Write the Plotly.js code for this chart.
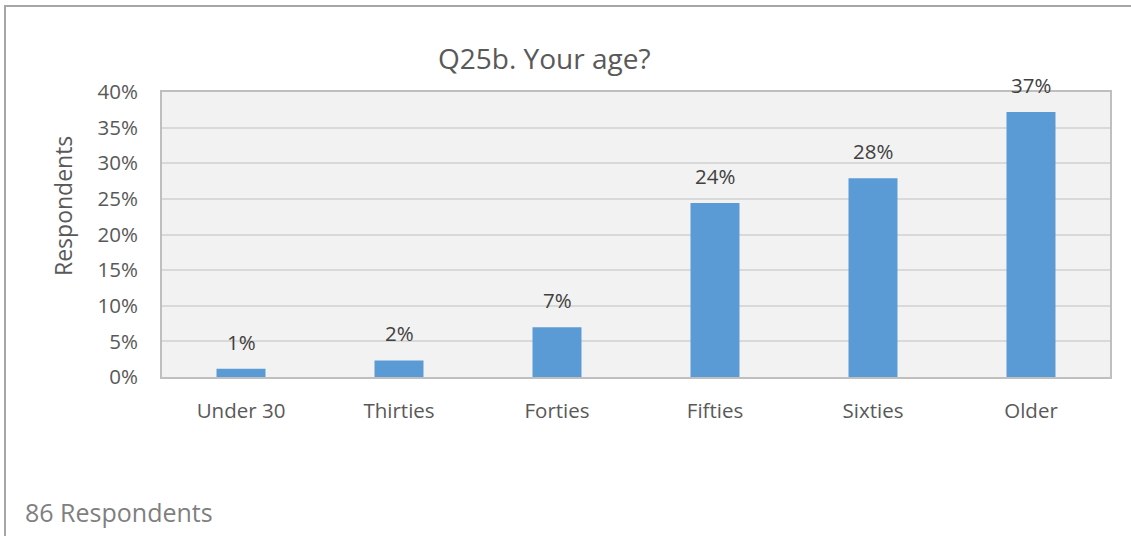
<!DOCTYPE html>
<html>
<head>
<meta charset="utf-8">
<script src="https://cdn.plot.ly/plotly-3.0.1.min.js"></script>
<style>html,body{margin:0;padding:0;background:#fff;}#chart{width:1131px;height:536px;}</style>
</head>
<body>
<div id="chart"></div>
<script>
var categories = ["Under 30", "Thirties", "Forties", "Fifties", "Sixties", "Older"];
var counts = [1, 2, 6, 21, 24, 32];
var totalRespondents = 86;
var shares = counts.map(function (c) { return c / totalRespondents; });
var labels = ["1%", "2%", "7%", "24%", "28%", "37%"];
var yTickVals = [0, 0.05, 0.10, 0.15, 0.20, 0.25, 0.30, 0.35, 0.40];
var yTickText = ["0%", "5%", "10%", "15%", "20%", "25%", "30%", "35%", "40%"];

var W = 1131, H = 536;
var L = 162, R = 21, T = 92, B = 159;
var pw = W - L - R, ph = H - T - B;
function px(x) { return (x - L) / pw; }
function py(y) { return (H - B - y) / ph; }

var font = "Open Sans, Noto Sans, sans-serif";

var annotations = categories.map(function (c, i) {
  return {
    x: c, y: shares[i], xref: "x", yref: "y", text: labels[i],
    showarrow: false, yanchor: "bottom", yshift: 11,
    font: {family: font, size: 20.5, color: "#404040"}
  };
});
annotations.push({
  x: px(63), y: py(206), xref: "paper", yref: "paper", text: "Respondents",
  showarrow: false, textangle: -90, xanchor: "center", yanchor: "middle",
  font: {family: font, size: 23, color: "#595959"}
});
annotations.push({
  x: px(544), y: py(58), xref: "paper", yref: "paper", text: "Q25b. Your age?",
  showarrow: false, xanchor: "center", yanchor: "middle",
  font: {family: font, size: 28, color: "#595959"}
});
annotations.push({
  x: px(23), y: py(512), xref: "paper", yref: "paper", text: "86 Respondents",
  showarrow: false, xanchor: "left", yanchor: "middle",
  font: {family: font, size: 25, color: "#7f7f7f"}
});

var trace = {
  type: "bar", x: categories, y: shares,
  marker: {color: "#5b9bd5"}, hoverinfo: "none"
};

var layout = {
  width: W, height: H,
  margin: {l: L, r: R, t: T, b: B, pad: 0},
  paper_bgcolor: "#ffffff", plot_bgcolor: "#f2f2f2",
  bargap: 0.69, showlegend: false,
  xaxis: {
    type: "category", showgrid: false, zeroline: false,
    showline: true, linecolor: "#bfbfbf", linewidth: 2, mirror: true,
    ticks: "outside", ticklen: 14, tickcolor: "rgba(0,0,0,0)",
    tickfont: {family: font, size: 20.5, color: "#595959"}, fixedrange: true
  },
  yaxis: {
    range: [0, 0.40], tickvals: yTickVals, ticktext: yTickText,
    showgrid: true, gridcolor: "#d9d9d9", gridwidth: 2, zeroline: false,
    showline: true, linecolor: "#bfbfbf", linewidth: 2, mirror: true,
    ticks: "outside", ticklen: 18, tickcolor: "rgba(0,0,0,0)",
    tickfont: {family: font, size: 20.5, color: "#595959"}, fixedrange: true
  },
  annotations: annotations,
  shapes: [{
    type: "rect", xref: "paper", yref: "paper",
    x0: px(5), x1: px(1140), y0: py(560), y1: py(6),
    line: {color: "#a6a6a6", width: 2}, fillcolor: "rgba(0,0,0,0)"
  }]
};

Plotly.newPlot("chart", [trace], layout, {displayModeBar: false, staticPlot: true});
</script>
</body>
</html>
